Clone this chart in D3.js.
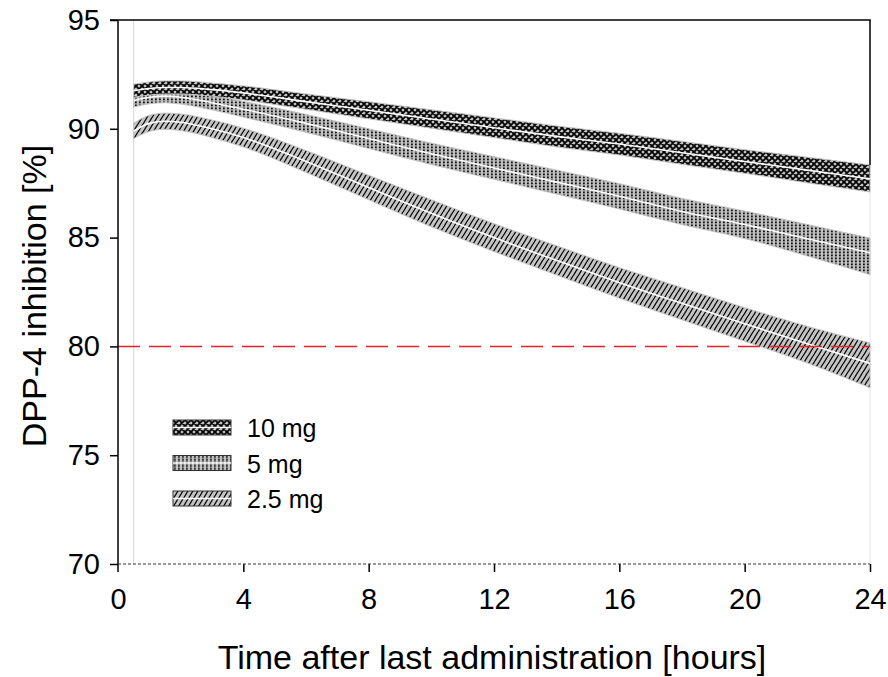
<!DOCTYPE html>
<html>
<head>
<meta charset="utf-8">
<script src="https://cdn.jsdelivr.net/npm/d3@7"></script>
<style>
  html, body { margin: 0; padding: 0; background: #fff; }
  svg { display: block; font-family: "Liberation Sans", Arial, sans-serif; }
</style>
</head>
<body>
<div id="chart"></div>
<script>
// time points (hours)
const times = [0.5, 1, 1.5, 2, 3, 4, 6, 8, 10, 12, 14, 16, 18, 20, 22, 24];

// 10 mg
const med10 = [91.75, 91.85, 91.9, 91.9, 91.8, 91.65, 91.25, 90.85, 90.45, 90.05, 89.65, 89.3, 88.9, 88.5, 88.1, 87.7];
const up10  = [92.05, 92.15, 92.2, 92.2, 92.1, 91.97, 91.6, 91.24, 90.87, 90.5, 90.13, 89.79, 89.42, 89.04, 88.69, 88.34];
const lo10  = [91.45, 91.55, 91.6, 91.6, 91.5, 91.33, 90.9, 90.46, 90.03, 89.6, 89.17, 88.8, 88.37, 87.96, 87.52, 87.1];

// 5 mg
const med5 = [91.3, 91.45, 91.5, 91.45, 91.2, 90.9, 90.25, 89.55, 88.85, 88.2, 87.55, 86.9, 86.2, 85.6, 84.95, 84.3];
const up5  = [91.6, 91.75, 91.8, 91.76, 91.53, 91.26, 90.66, 90.0, 89.34, 88.72, 88.1, 87.48, 86.8, 86.22, 85.6, 84.98];
const lo5  = [91.0, 91.15, 91.2, 91.14, 90.87, 90.54, 89.84, 89.1, 88.36, 87.68, 87.0, 86.32, 85.6, 84.96, 84.16, 83.3];

// 2.5 mg
const med25 = [89.9, 90.25, 90.35, 90.3, 90.0, 89.6, 88.5, 87.3, 86.12, 85.0, 83.95, 82.93, 81.98, 81.04, 80.12, 79.22];
const up25  = [90.25, 90.62, 90.72, 90.68, 90.4, 90.03, 89.0, 87.86, 86.74, 85.64, 84.62, 83.62, 82.7, 81.78, 80.92, 80.16];
const lo25  = [89.55, 89.88, 89.98, 89.92, 89.6, 89.17, 88.0, 86.74, 85.5, 84.36, 83.28, 82.22, 81.22, 80.24, 79.24, 78.1];

const series = [
  { label: '10 mg', med: med10, up: up10, lo: lo10, pattern: 'pat-cross' },
  { label: '5 mg', med: med5, up: up5, lo: lo5, pattern: 'pat-dots' },
  { label: '2.5 mg', med: med25, up: up25, lo: lo25, pattern: 'pat-diag' }
];

const xTicks = [0, 4, 8, 12, 16, 20, 24];
const yTicks = [70, 75, 80, 85, 90, 95];
const threshold = 80;

const width = 888, height = 677;
const margin = { top: 20, right: 18, bottom: 113, left: 118 };
const w = width - margin.left - margin.right;
const h = height - margin.top - margin.bottom;

const x = d3.scaleLinear().domain([0, 24]).range([0, w]);
const y = d3.scaleLinear().domain([70, 95]).range([h, 0]);

const svg = d3.select('#chart').append('svg')
  .attr('width', width)
  .attr('height', height);

// patterns
const defs = svg.append('defs');

const pCross = defs.append('pattern').attr('id', 'pat-cross')
  .attr('patternUnits', 'userSpaceOnUse').attr('width', 6).attr('height', 6);
pCross.append('rect').attr('width', 6).attr('height', 6).attr('fill', '#c4c4c4');
pCross.append('path').attr('d', 'M0,0L6,6M6,0L0,6M-1,5L1,7M5,-1L7,1M-1,1L1,-1M5,7L7,5')
  .attr('stroke', '#000').attr('stroke-width', 1.8);

const pDots = defs.append('pattern').attr('id', 'pat-dots')
  .attr('patternUnits', 'userSpaceOnUse').attr('width', 4).attr('height', 3);
pDots.append('rect').attr('width', 4).attr('height', 3).attr('fill', '#c0c0c0');
pDots.append('rect').attr('x', 1).attr('y', 0.5).attr('width', 1.8).attr('height', 1.8).attr('fill', '#111');

const pDiag = defs.append('pattern').attr('id', 'pat-diag')
  .attr('patternUnits', 'userSpaceOnUse').attr('width', 5).attr('height', 8);
pDiag.append('rect').attr('width', 5).attr('height', 8).attr('fill', '#c4c4c4');
pDiag.append('path').attr('d', 'M-0.5,9L5.5,-1M-5.5,9L0.5,-1M4.5,9L10.5,-1')
  .attr('stroke', '#000').attr('stroke-width', 1.2);

const g = svg.append('g').attr('transform', `translate(${margin.left},${margin.top})`);

// light frame lines at first sample and right edge
g.append('line')
  .attr('x1', x(times[0])).attr('x2', x(times[0]))
  .attr('y1', 0).attr('y2', h)
  .attr('stroke', '#d6d6d6').attr('stroke-width', 1);
g.append('line')
  .attr('x1', x(24)).attr('x2', x(24))
  .attr('y1', 0).attr('y2', h)
  .attr('stroke', '#e4e4e4').attr('stroke-width', 1);

// bands
const area = d3.area()
  .x((d) => x(d.t))
  .y0((d) => y(d.lo))
  .y1((d) => y(d.up))
  .curve(d3.curveMonotoneX);

const line = d3.line()
  .x((d) => x(d.t))
  .y((d) => y(d.v))
  .curve(d3.curveMonotoneX);

series.slice().reverse().forEach((s) => {
  const pts = times.map((t, i) => ({ t, up: s.up[i], lo: s.lo[i] }));
  g.append('path')
    .datum(pts)
    .attr('d', area)
    .attr('fill', `url(#${s.pattern})`)
    .attr('stroke', '#c2c2c2')
    .attr('stroke-width', 1);
  g.append('path')
    .datum(times.map((t, i) => ({ t, v: s.med[i] })))
    .attr('d', line)
    .attr('fill', 'none')
    .attr('stroke', '#fff')
    .attr('stroke-width', 1.6);
});

// threshold line
g.append('line')
  .attr('x1', 0).attr('x2', w)
  .attr('y1', y(threshold)).attr('y2', y(threshold))
  .attr('stroke', '#e8202a')
  .attr('stroke-width', 1.5)
  .attr('stroke-dasharray', '22 9');

// top border
g.append('line')
  .attr('x1', -8).attr('x2', w + 0.75)
  .attr('y1', 0).attr('y2', 0)
  .attr('stroke', '#000').attr('stroke-width', 1.5);
// right border (upper part only)
g.append('line')
  .attr('x1', w).attr('x2', w)
  .attr('y1', 0).attr('y2', y(up10[up10.length - 1]))
  .attr('stroke', '#000').attr('stroke-width', 1.5);

// y axis
const yAxis = g.append('g')
  .call(d3.axisLeft(y).tickValues(yTicks).tickSize(8).tickPadding(10));
yAxis.select('.domain').attr('stroke-width', 1.5).attr('d', `M0,${h + 8}V0`);
yAxis.selectAll('.tick line').attr('stroke-width', 1.5);
yAxis.selectAll('text').attr('font-size', 29).attr('fill', '#000');

// x axis
const xAxis = g.append('g')
  .attr('transform', `translate(0,${h})`)
  .call(d3.axisBottom(x).tickValues(xTicks).tickSize(8).tickPadding(16));
xAxis.select('.domain').remove();
xAxis.append('line')
  .attr('x1', 0).attr('x2', w)
  .attr('stroke', '#333').attr('stroke-width', 1)
  .attr('stroke-dasharray', '3 2');
xAxis.selectAll('.tick line').attr('stroke-width', 1.5);
xAxis.selectAll('.tick').filter((d) => d === 0).select('line').remove();
xAxis.selectAll('text').attr('font-size', 29).attr('fill', '#000');

// axis titles
svg.append('text')
  .attr('x', margin.left + w / 2 - 2)
  .attr('y', 669)
  .attr('text-anchor', 'middle')
  .attr('font-size', 34)
  .text('Time after last administration [hours]');

svg.append('text')
  .attr('transform', `translate(46,${margin.top + h / 2 + 4}) rotate(-90)`)
  .attr('text-anchor', 'middle')
  .attr('font-size', 34)
  .text('DPP-4 inhibition [%]');

// legend
const legend = svg.append('g').attr('transform', 'translate(173,420)');
series.forEach((s, i) => {
  const row = legend.append('g').attr('transform', `translate(0,${i * 35.5})`);
  row.append('rect')
    .attr('width', 58).attr('height', 15)
    .attr('fill', `url(#${s.pattern})`)
    .attr('stroke', '#333').attr('stroke-width', 1);
  row.append('line')
    .attr('x1', 0).attr('x2', 58)
    .attr('y1', 7.5).attr('y2', 7.5)
    .attr('stroke', '#fff').attr('stroke-width', 1.4);
  row.append('text')
    .attr('x', 74).attr('y', 8)
    .attr('dominant-baseline', 'central')
    .attr('font-size', 25)
    .text(s.label);
});
</script>
</body>
</html>
